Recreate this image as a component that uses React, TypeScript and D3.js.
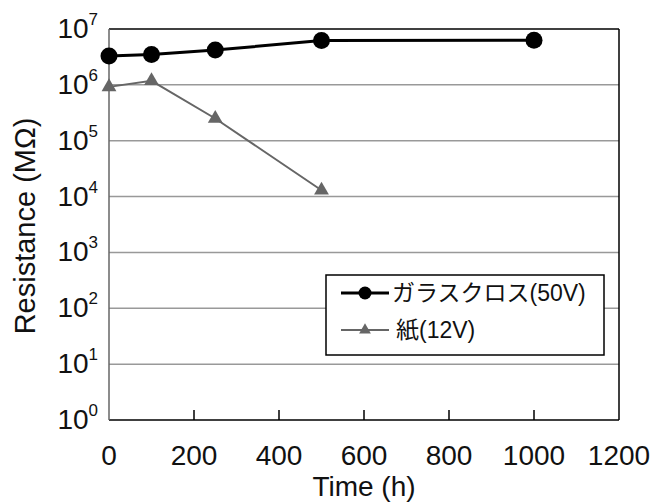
import React from 'react';
import * as d3 from 'd3';

// chart data
const glassHours = [0, 100, 250, 500, 1000];
const glassValues = [3.3e6, 3.5e6, 4.2e6, 6.2e6, 6.3e6];
const paperHours = [0, 100, 250, 500];
const paperValues = [9.2e5, 1.18e6, 2.5e5, 1.3e4];
const xTicks = [0, 200, 400, 600, 800, 1000, 1200];
const yExponents = [0, 1, 2, 3, 4, 5, 6, 7];
const seriesNames = ['ガラスクロス(50V)', '紙(12V)'];

const W = 654;
const H = 503;
const margin = { top: 29, right: 35, bottom: 83, left: 109 };
const font = '"Liberation Sans", Arial, "Noto Sans CJK JP", sans-serif';

const App = () => {
    const x = d3.scaleLinear().domain([0, 1200]).range([margin.left, W - margin.right]);
    const y = d3.scaleLog().domain([1, 1e7]).range([H - margin.bottom, margin.top]);

    const glass = glassHours.map((h, i) => [h, glassValues[i]] as [number, number]);
    const paper = paperHours.map((h, i) => [h, paperValues[i]] as [number, number]);

    const line = d3.line<[number, number]>()
        .x(d => x(d[0]))
        .y(d => y(d[1]));

    const tri = d3.symbol().type(d3.symbolTriangle).size(95)();
    const triSmall = d3.symbol().type(d3.symbolTriangle).size(60)();

    const left = x(0);
    const right = x(1200);
    const top = y(1e7);
    const bottom = y(1);

    // legend box
    const lg = { x: 326, y: 275, w: 278, h: 80 };

    return (
        <svg width={W} height={H} style={{ position: 'absolute', left: 0, top: 0, background: '#fff' }} fontFamily={font}>
            {/* gridlines */}
            {yExponents.slice(1, -1).map(e => (
                <line key={e} x1={left} x2={right} y1={y(Math.pow(10, e))} y2={y(Math.pow(10, e))}
                    stroke="#999" strokeWidth={1.5} />
            ))}
            {/* frame */}
            <line x1={left} x2={right} y1={top} y2={top} stroke="#000" strokeWidth={1.5} />
            <line x1={right} x2={right} y1={top} y2={bottom} stroke="#000" strokeWidth={1.5} />
            <line x1={left} x2={right} y1={bottom} y2={bottom} stroke="#000" strokeWidth={1.5} />
            <line x1={left} x2={left} y1={top} y2={bottom} stroke="#666" strokeWidth={1.5} />
            {/* x ticks inside */}
            {xTicks.slice(1, -1).map(t => (
                <line key={t} x1={x(t)} x2={x(t)} y1={bottom} y2={bottom - 10} stroke="#000" strokeWidth={1.5} />
            ))}
            {/* x tick labels */}
            {xTicks.map(t => (
                <text key={t} x={x(t)} y={bottom + 45} fontSize={28} textAnchor="middle" fill="#111">{t}</text>
            ))}
            {/* y tick labels */}
            {yExponents.map(e => (
                <text key={e} x={98} y={y(Math.pow(10, e)) + 9} fontSize={28} textAnchor="end" fill="#111">
                    10<tspan fontSize={17} dy={-13}>{e}</tspan>
                </text>
            ))}
            {/* axis titles */}
            <text x={(left + right) / 2} y={496} fontSize={28} textAnchor="middle" fill="#111">Time (h)</text>
            <text transform={`translate(35,226) rotate(-90)`} fontSize={29} textAnchor="middle" fill="#111">
                Resistance (MΩ)
            </text>
            {/* paper series */}
            <path d={line(paper) || ''} fill="none" stroke="#666" strokeWidth={2} />
            {paper.map((d, i) => (
                <path key={i} d={tri || ''} transform={`translate(${x(d[0])},${y(d[1])})`} fill="#666" />
            ))}
            {/* glass cloth series */}
            <path d={line(glass) || ''} fill="none" stroke="#000" strokeWidth={3} />
            {glass.map((d, i) => (
                <circle key={i} cx={x(d[0])} cy={y(d[1])} r={8.5} fill="#000" />
            ))}
            {/* legend */}
            <rect x={lg.x} y={lg.y} width={lg.w} height={lg.h} fill="#fff" stroke="#000" strokeWidth={1.5} />
            <line x1={341} x2={389} y1={293} y2={293} stroke="#000" strokeWidth={3} />
            <circle cx={365} cy={293} r={6.5} fill="#000" />
            <text x={392} y={301} fontSize={23} fill="#111">{seriesNames[0]}</text>
            <line x1={341} x2={389} y1={330} y2={330} stroke="#666" strokeWidth={2} />
            <path d={triSmall || ''} transform="translate(365,330)" fill="#666" />
            <text x={396} y={338} fontSize={23} fill="#111">{seriesNames[1]}</text>
        </svg>
    );
};

export default App;
